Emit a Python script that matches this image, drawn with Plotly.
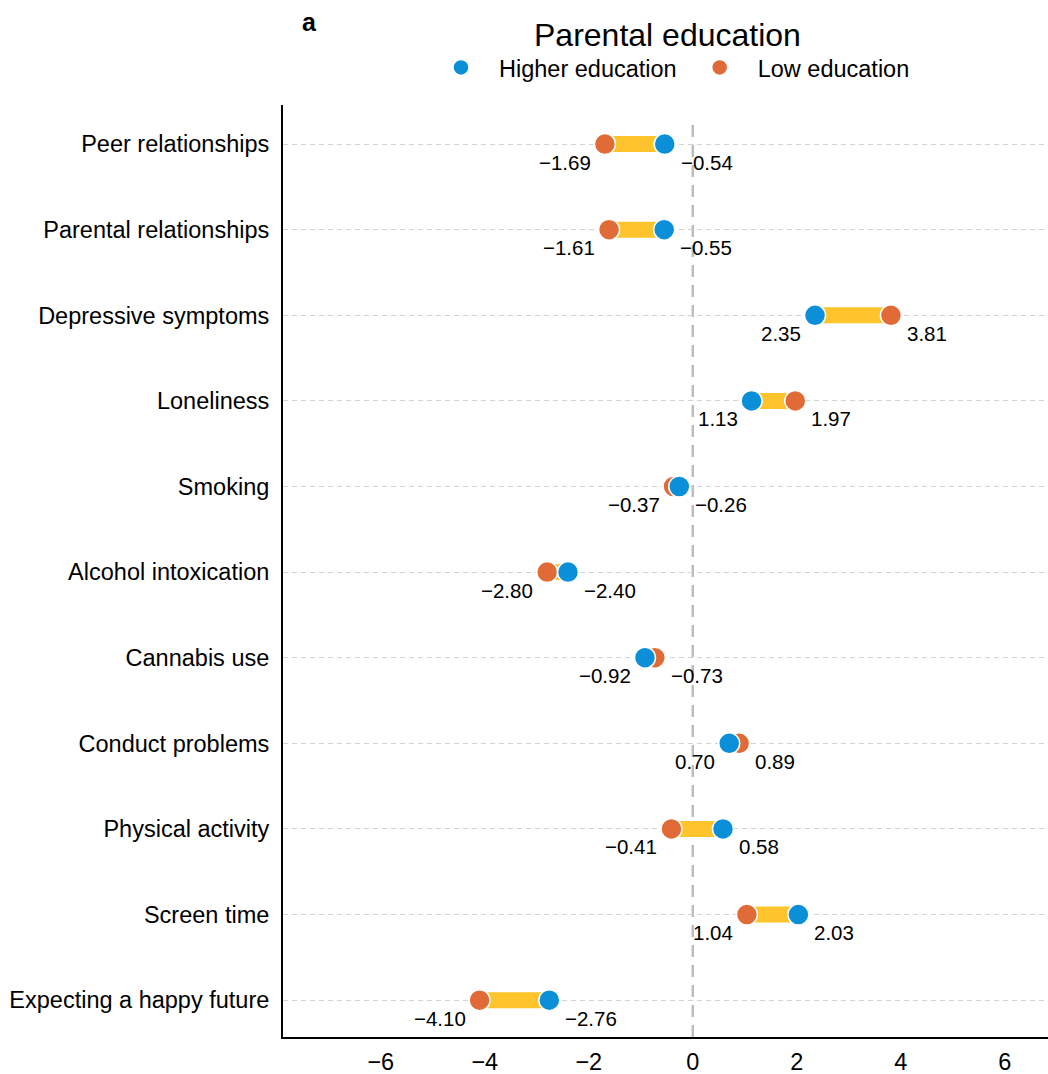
import plotly.graph_objects as go

# Outcomes (top to bottom) and estimates by parental education group
outcomes = [
    "Peer relationships",
    "Parental relationships",
    "Depressive symptoms",
    "Loneliness",
    "Smoking",
    "Alcohol intoxication",
    "Cannabis use",
    "Conduct problems",
    "Physical activity",
    "Screen time",
    "Expecting a happy future",
]
higher_edu = [-0.54, -0.55, 2.35, 1.13, -0.26, -2.40, -0.92, 0.70, 0.58, 2.03, -2.76]
low_edu = [-1.69, -1.61, 3.81, 1.97, -0.37, -2.80, -0.73, 0.89, -0.41, 1.04, -4.10]
x_ticks = [-6, -4, -2, 0, 2, 4, 6]

BLUE = "#0A8FD8"
ORANGE = "#E06B37"
YELLOW = "#FFC42B"
FONT = "Arial, Liberation Sans, sans-serif"

rows = list(range(len(outcomes)))

fig = go.Figure()

# Connecting bars between the two group estimates
bar_x, bar_y = [], []
for i, (h, l) in enumerate(zip(higher_edu, low_edu)):
    bar_x += [h, l, None]
    bar_y += [i, i, None]
fig.add_trace(go.Scatter(
    x=bar_x, y=bar_y, mode="lines",
    line=dict(color=YELLOW, width=16),
    showlegend=False, hoverinfo="skip",
))

fig.add_trace(go.Scatter(
    x=low_edu, y=rows, mode="markers", name="Low education",
    marker=dict(color=ORANGE, size=21, line=dict(color="white", width=1.5)),
))
fig.add_trace(go.Scatter(
    x=higher_edu, y=rows, mode="markers", name="Higher education",
    marker=dict(color=BLUE, size=21, line=dict(color="white", width=1.5)),
))


def fmt(v):
    s = f"{abs(v):.2f}"
    return ("\u2212" + s) if v < 0 else s


# Value labels: left estimate labelled to its lower left, right one to its lower right
for i, (h, l) in enumerate(zip(higher_edu, low_edu)):
    lo, hi = min(h, l), max(h, l)
    fig.add_annotation(x=lo, y=i, text=fmt(lo), showarrow=False,
                       xanchor="right", yanchor="middle", xshift=-12, yshift=-18,
                       font=dict(family=FONT, size=20.5, color="black"))
    fig.add_annotation(x=hi, y=i, text=fmt(hi), showarrow=False,
                       xanchor="left", yanchor="middle", xshift=14, yshift=-18,
                       font=dict(family=FONT, size=20.5, color="black"))

# Reference line at zero
fig.add_shape(type="line", x0=0, x1=0, y0=0, y1=0.985, xref="x", yref="paper",
              line=dict(color="#BDBDBD", width=2.5, dash="12px,8px"), layer="below")

fig.add_annotation(text="Parental education", xref="paper", yref="paper",
                   x=0.503, y=1.075, showarrow=False, xanchor="center", yanchor="middle",
                   font=dict(family=FONT, size=32, color="black"))
fig.add_annotation(text="<b>a</b>", xref="paper", yref="paper",
                   x=0.035, y=1.089, showarrow=False, xanchor="center", yanchor="middle",
                   font=dict(family=FONT, size=25, color="black"))

fig.update_layout(
    width=1048, height=1074,
    margin=dict(l=283, r=0, t=105, b=37),
    plot_bgcolor="white", paper_bgcolor="white",
    font=dict(family=FONT, size=23.5, color="black"),
    legend=dict(
        orientation="h", x=0.183, y=1.04, xanchor="left", yanchor="middle",
        traceorder="reversed", itemwidth=66,
        font=dict(family=FONT, size=23.5, color="black"),
        bgcolor="rgba(0,0,0,0)",
    ),
    xaxis=dict(
        range=[-7.88, 6.83], tickvals=x_ticks,
        ticktext=[fmt(v).replace(".00", "") for v in x_ticks],
        showgrid=False, zeroline=False,
        showline=True, linecolor="black", linewidth=2,
        ticks="", ticklabelstandoff=3,
        tickfont=dict(family=FONT, size=23.5, color="black"),
    ),
    yaxis=dict(
        range=[10.43, -0.456], tickvals=rows, ticktext=outcomes,
        showgrid=True, gridcolor="#D3D3D3", gridwidth=1, griddash="5px,4px",
        zeroline=False, showline=True, linecolor="black", linewidth=2,
        ticks="", ticklabelstandoff=7,
        tickfont=dict(family=FONT, size=23.5, color="black"),
    ),
)

fig.write_html("out.html")
